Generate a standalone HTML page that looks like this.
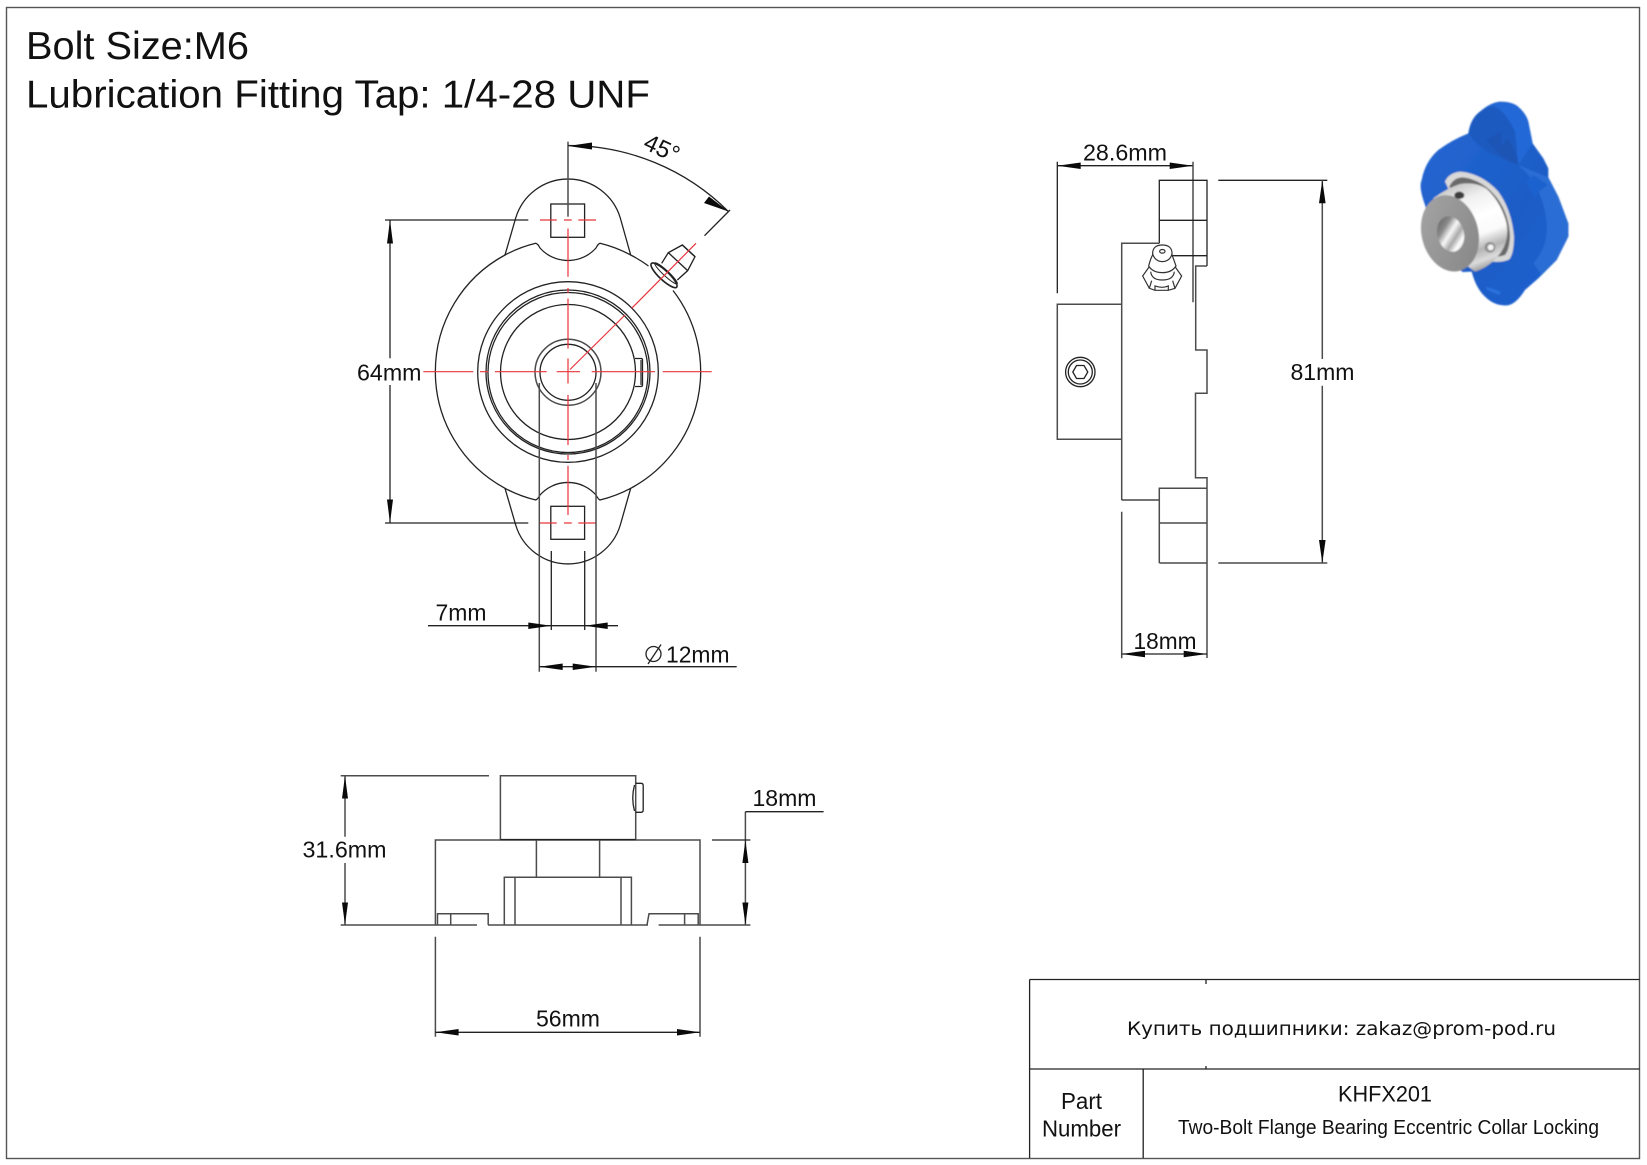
<!DOCTYPE html>
<html><head><meta charset="utf-8"><style>
html,body{margin:0;padding:0;background:#fff;width:1647px;height:1165px;overflow:hidden}
svg{display:block}
text{font-family:"Liberation Sans",sans-serif;fill:#111}
.l{fill:none;stroke:#222;stroke-width:1.3}
.g{fill:none;stroke:#4c4c4c;stroke-width:1.5}
.r{fill:none;stroke:#e8343a;stroke-width:1.2}
.a{fill:#0a0a0a;stroke:none}
</style></head><body>
<svg width="1647" height="1165" viewBox="0 0 1647 1165" xmlns="http://www.w3.org/2000/svg">
<defs>
<linearGradient id="cyl" x1="0.3" y1="0" x2="0.6" y2="1"><stop offset="0" stop-color="#c4c4c4"/><stop offset=".2" stop-color="#f0f0f0"/><stop offset=".42" stop-color="#ffffff"/><stop offset=".62" stop-color="#fafafa"/><stop offset=".78" stop-color="#b4b4b4"/><stop offset=".9" stop-color="#dcdcdc"/><stop offset="1" stop-color="#9a9a9a"/></linearGradient>
<linearGradient id="face" x1="0" y1="0" x2="1" y2="1"><stop offset="0" stop-color="#a5a5a5"/><stop offset="1" stop-color="#858585"/></linearGradient>
<linearGradient id="hole" x1="0.1" y1="0" x2="0.8" y2="1"><stop offset="0" stop-color="#5e5e5e"/><stop offset=".3" stop-color="#8a8a8a"/><stop offset=".5" stop-color="#f8f8f8"/><stop offset=".68" stop-color="#a8a8a8"/><stop offset=".85" stop-color="#ffffff"/><stop offset="1" stop-color="#c8c8c8"/></linearGradient>
<linearGradient id="blue" x1="0" y1="0" x2="1" y2="1"><stop offset="0" stop-color="#2468d4"/><stop offset=".6" stop-color="#1b5cc6"/><stop offset="1" stop-color="#1d62d2"/></linearGradient>
<filter id="b"><feGaussianBlur stdDeviation="2"/></filter>
</defs>
<rect x="6.5" y="7.5" width="1633" height="1151" fill="none" stroke="#555" stroke-width="1.4"/>

<text x="26" y="59" font-size="39" textLength="223" lengthAdjust="spacingAndGlyphs">Bolt Size:M6</text>
<text x="26" y="107.5" font-size="39" textLength="624" lengthAdjust="spacingAndGlyphs">Lubrication Fitting Tap: 1/4-28 UNF</text>

<!-- FRONT VIEW -->
<path class="l" d="M505,255 A132.5,132.5 0 0 0 505,488.3 L515.7,525 A54.6,54.6 0 0 0 620.3,525 L630.7,488.3"/>
<path class="l" d="M505,488.3 A132.5,132.5 0 0 0 535.7,500 Q538,499 540,495 A37.5,37.5 0 0 1 596,495 Q598,499 600,500 A132.5,132.5 0 0 0 630.7,488.3 A132.5,132.5 0 0 0 673,290.5"/>
<path class="l" d="M648.5,266 A132.5,132.5 0 0 0 630.7,255 A132.5,132.5 0 0 0 600,243.3 Q598,244 596,248 A37.5,37.5 0 0 1 540,248 Q538,244 535.7,243.3 A132.5,132.5 0 0 0 505,255 L515.7,218 A54.6,54.6 0 0 1 620.3,218 L630.7,255"/>
<rect class="l" x="550.8" y="204" width="33.8" height="33.3"/>
<rect class="l" x="550.8" y="506.3" width="33.8" height="33"/>
<circle class="l" cx="568" cy="372" r="90.3"/>
<circle class="l" cx="568" cy="372" r="82"/>
<circle class="l" cx="568" cy="372.5" r="80"/>
<circle class="l" cx="568" cy="372" r="67.5"/>
<circle class="g" cx="568" cy="372.3" r="33"/>
<circle class="l" cx="568" cy="372.3" r="28"/>
<path class="l" d="M635,358.5 H641 Q642.5,358.5 642.5,360 V385 Q642.5,386.5 641,386.5 H635"/>
<path class="g" d="M641,360 V385"/>
<!-- fitting -->
<g transform="translate(640,230) scale(.3333)" fill="none" stroke="#222" stroke-width="4">
<path d="M65,100 L85,68 L127,45 L165,80 L143,122 L112,150"/>
<path d="M85,68 L143,122 M127,45 L165,80"/>
<ellipse cx="72" cy="136" rx="52" ry="14" transform="rotate(43 72 136)" fill="#fff" stroke-width="5"/>
<ellipse cx="78" cy="130" rx="46" ry="8" transform="rotate(43 78 130)" stroke-width="3"/>
</g>
<!-- centre lines -->
<path class="r" d="M568,228.5 V276.7 M568,288 V293 M568,298.5 V348.5 M568,358.5 V383.5 M568,395 V445 M568,455 V460 M568,465.7 V515"/>
<path class="r" d="M540,220 H556.7 M564,220 H571.7 M578.3,220 H596 M540,523 H556.7 M564,523 H571.7 M578.3,523 H596"/>
<path class="r" d="M423.3,371.7 H473.3 M480,371.7 H488.3 M495,371.7 H546.7 M556.7,371.7 H580 M591.7,371.7 H650 M648,371.7 H655 M662.7,371.7 H711.7"/>
<path class="r" d="M570,369.5 L625,315 M631.7,308.3 L696,243.3"/>
<!-- extension lines -->
<path class="g" d="M568,141.7 V216.7"/>
<path class="l" d="M385,220 H528.3 M385,523 H528.3"/>
<path class="l" d="M390,220 V358.3 M390,385 V523"/>
<polygon class="a" points="390,220 387,243.5 393,243.5"/>
<polygon class="a" points="390,523 387,499.5 393,499.5"/>
<text x="357" y="380.5" font-size="23" textLength="64.5" lengthAdjust="spacingAndGlyphs">64mm</text>
<path class="l" d="M568,145.5 A226.5,226.5 0 0 1 728.3,211.4"/>
<polygon class="a" points="568,146 592,142.5 592,149.5"/>
<polygon class="a" points="728.5,211.5 709,196.5 704,203"/>
<path class="l" d="M730,210 L704.5,235.7"/>
<text transform="translate(642,148) rotate(25)" font-size="24">45°</text>
<path class="g" d="M539.3,383 V671.7 M596,383 V671.7"/>
<path class="l" d="M551.3,551 V630 M584.7,551 V630"/>
<path class="l" d="M428,625.7 H618 M539.3,666.7 H736.7"/>
<polygon class="a" points="551.3,625.7 528.3,622.5 528.3,629"/>
<polygon class="a" points="584.7,625.7 607.7,622.5 607.7,629"/>
<polygon class="a" points="539.3,666.7 562.7,663.5 562.7,670"/>
<polygon class="a" points="596,666.7 572.7,663.5 572.7,670"/>
<text x="435.5" y="620.7" font-size="23" textLength="51" lengthAdjust="spacingAndGlyphs">7mm</text>
<circle class="l" cx="653.5" cy="654" r="7.5"/>
<path class="l" d="M648,664 L661,644.5"/>
<text x="666" y="662.3" font-size="23" textLength="63.5" lengthAdjust="spacingAndGlyphs">12mm</text>

<!-- BOTTOM VIEW -->
<path class="g" d="M500.4,839.5 V775.7 H635.7 V839.5"/>
<path class="l" d="M635.7,783.3 H641 Q643.2,783.3 643.2,785.5 V810 Q643.2,812.3 641,812.3 H635.7 M634.5,785 Q631,798 634.5,811"/>
<path class="g" d="M435.4,925 V840 H700 V925"/>
<path class="l" d="M500.4,839.6 H635.7" style="stroke-width:1.4"/>
<path class="g" d="M536.4,840 V877.3 M599.6,840 V877.3"/>
<path class="g" d="M504.3,925 V877.3 H631.4 V925 M515,877.3 V925 M621,877.3 V925"/>
<path class="g" d="M437.5,925 V913.7 H488.2 V925 M450.7,913.7 V925"/>
<path class="g" d="M647,925 L649,913.7 H698.2 V925 M684.6,913.7 V925"/>
<path class="g" d="M340.7,925 H477 M488,925 H648 M658.6,925 H750.4"/>
<path class="g" d="M340.7,775.7 H489"/>
<path class="g" d="M345,775.7 V836.7 M345,863 V925"/>
<polygon class="a" points="345,775.7 342,798.5 348,798.5"/>
<polygon class="a" points="345,925 342,902.5 348,902.5"/>
<text x="302.5" y="857.7" font-size="23" textLength="84" lengthAdjust="spacingAndGlyphs">31.6mm</text>
<path class="g" d="M745.4,811.7 V925"/>
<path class="l" d="M745.4,811.7 H823.6 M712,840 H750.4"/>
<polygon class="a" points="745.4,840 742.4,863 748.4,863"/>
<polygon class="a" points="745.4,925 742.4,902.5 748.4,902.5"/>
<text x="752.5" y="806" font-size="23" textLength="64" lengthAdjust="spacingAndGlyphs">18mm</text>
<path class="g" d="M435.4,936.7 V1036.7 M700,936.7 V1036.7"/>
<path class="l" d="M435.4,1032.3 H700"/>
<polygon class="a" points="435.4,1032.3 458.6,1029 458.6,1035.5"/>
<polygon class="a" points="700,1032.3 677,1029 677,1035.5"/>
<text x="536" y="1026.7" font-size="23" textLength="64" lengthAdjust="spacingAndGlyphs">56mm</text>

<!-- SIDE VIEW -->
<path class="l" d="M1057.3,161.7 V293.3 M1057.3,165.7 H1193"/>
<path class="g" d="M1193,161.7 V302.3"/>
<polygon class="a" points="1057.3,165.7 1080.7,162.5 1080.7,169"/>
<polygon class="a" points="1193,165.7 1169.7,162.5 1169.7,169"/>
<text x="1083" y="160.7" font-size="23" textLength="84" lengthAdjust="spacingAndGlyphs">28.6mm</text>
<path class="l" d="M1159.3,243.3 V180.3 H1207 V266 M1159.3,220.3 H1207 M1172.5,255.7 H1207"/>
<path class="g" d="M1207,266 H1195.7 V350 H1207 V393.3 H1195.5 V477.7 H1207 V658"/>
<path class="g" d="M1159.3,243.3 H1121.7 V500"/>
<path class="l" d="M1121.7,500 H1159.3"/>
<path class="g" d="M1121.7,304.3 H1057.3 V439.3 H1121.7"/>
<circle class="l" cx="1080.3" cy="372" r="14.7"/>
<circle class="l" cx="1080.3" cy="372" r="12"/>
<polygon class="l" points="1072.8,372 1076.5,365.5 1084,365.5 1087.8,372 1084,378.5 1076.5,378.5"/>
<g transform="translate(1040,130) scale(.3333)" fill="#fff" stroke="#333" stroke-width="3.6">
<polygon points="308,438 328,410 405,410 425,438 405,475 385,481 345,481 328,475"/>
<path d="M326,408 Q332,385 338,375 Q336,345 367,345 Q398,345 396,375 Q402,390 408,408 Q395,428 367,428 Q338,428 326,408 Z"/>
<path d="M338,372 Q345,394 367,395 Q390,394 396,372" fill="none"/>
<path d="M332,425 Q335,450 367,450 Q400,450 403,425" fill="none"/>
<path d="M328,475 L335,452 M405,475 L398,452 M345,481 V468 Q367,476 385,468 V481" fill="none"/>
<ellipse cx="367" cy="364" rx="8" ry="5.5"/>
</g>
<path class="g" d="M1159.3,563 V488.3 H1207 M1159.3,523 H1207 M1159.3,563 H1207"/>
<path class="g" d="M1121.7,511.7 V658.3"/>
<path class="l" d="M1121.7,654 H1207"/>
<polygon class="a" points="1121.7,654 1145,650.8 1145,657.3"/>
<polygon class="a" points="1207,654 1183.7,650.8 1183.7,657.3"/>
<text x="1133.5" y="649" font-size="23" textLength="63" lengthAdjust="spacingAndGlyphs">18mm</text>
<path class="l" d="M1218.3,180.3 H1327.3"/>
<path class="g" d="M1218.3,563 H1327.3 M1322.3,180.3 V359 M1322.3,385.7 V563"/>
<polygon class="a" points="1322.3,180.3 1319,203.3 1325.6,203.3"/>
<polygon class="a" points="1322.3,563 1319,540 1325.6,540"/>
<text x="1290.5" y="380" font-size="23" textLength="64" lengthAdjust="spacingAndGlyphs">81mm</text>

<!-- 3D MODEL -->
<g transform="translate(1400,90) scale(.3333)">
<g filter="url(#b)">
<path fill="url(#blue)" d="M205,130 Q212,85 240,65 Q270,38 300,35 Q335,35 352,48 Q378,70 385,95 L398,160 L430,205 L445,235 L445,262 L475,320 L505,400 L505,440 L470,510 L415,565 L375,600 Q350,640 325,646 Q285,650 255,620 Q228,595 215,545 L188,546 Q150,520 120,465 Q90,400 75,345 Q55,290 65,270 Q75,215 115,180 Q155,150 205,130 Z"/>
<path fill="#1b5ac0" d="M205,130 Q212,85 240,65 Q260,50 280,50 Q320,65 345,125 L355,225 Q310,210 270,190 Q230,165 205,130 Z"/>
<path fill="#2268d6" d="M280,42 Q335,35 352,48 Q378,70 385,95 L398,160 L355,225 L345,125 Q320,70 280,42 Z"/>
<polygon fill="#1a55b6" points="258,150 302,125 305,165 278,172"/>
<path fill="#1a54b4" d="M320,145 Q340,160 355,225 L315,205 Q295,190 280,175 Q310,170 320,145 Z"/>
<path fill="#2a6dd4" d="M355,225 L445,262 L475,320 L505,400 L505,440 L470,510 L425,555 L400,520 Q445,470 440,400 Q430,290 355,225 Z"/>
<polygon fill="#2a72e0" points="258,590 302,605 298,615 262,600"/>
<polygon fill="#1e62cf" points="378,275 400,255 445,285 425,298 402,320"/>
<g transform="translate(30,240)">
<path fill="#d8d8d8" d="M105,35 Q115,10 150,5 Q215,10 265,65 Q305,120 312,200 Q312,250 298,268 Q270,282 215,270 Z"/>
<path fill="#6a6a6a" d="M118,50 Q130,22 160,22 Q220,30 262,85 Q298,135 300,200 Q298,240 285,255 Q260,264 215,258 Z"/>
<path fill="url(#cyl)" d="M70,85 Q110,55 150,42 Q195,35 228,55 Q268,90 287,150 Q302,205 272,248 Q240,292 195,305 L120,250 Z"/>
<ellipse cx="120" cy="190" rx="85" ry="116" transform="rotate(-14 120 190)" fill="url(#face)"/>
<ellipse cx="122" cy="192" rx="40" ry="54" transform="rotate(-14 122 192)" fill="url(#hole)"/>
<ellipse cx="148" cy="76" rx="15" ry="11" fill="#3e3e3e"/>
<ellipse cx="240" cy="232" rx="16" ry="16" fill="#8f8f8f"/>
<ellipse cx="242" cy="232" rx="9" ry="9" fill="#f4f4f4"/>
</g>
</g>
</g>

<!-- TITLE BLOCK -->
<path d="M1029.6,979.5 H1639.5 M1029.6,1069 H1639.5 M1029.6,979.5 V1158 M1143.2,1069 V1158 M1206,979.5 V984 M1206,1066 V1069" fill="none" stroke="#222" stroke-width="1.3"/>
<text x="1127" y="1035" font-size="19" style='font-family:"DejaVu Sans",sans-serif' textLength="429" lengthAdjust="spacingAndGlyphs">Купить подшипники: zakaz@prom-pod.ru</text>
<text x="1338" y="1101.5" font-size="22.5" textLength="94" lengthAdjust="spacingAndGlyphs">KHFX201</text>
<text x="1178" y="1134" font-size="20.5" textLength="421" lengthAdjust="spacingAndGlyphs">Two-Bolt Flange Bearing Eccentric Collar Locking</text>
<text x="1061" y="1109" font-size="23" textLength="41" lengthAdjust="spacingAndGlyphs">Part</text>
<text x="1042" y="1136.7" font-size="23" textLength="79" lengthAdjust="spacingAndGlyphs">Number</text>
</svg>
</body></html>
